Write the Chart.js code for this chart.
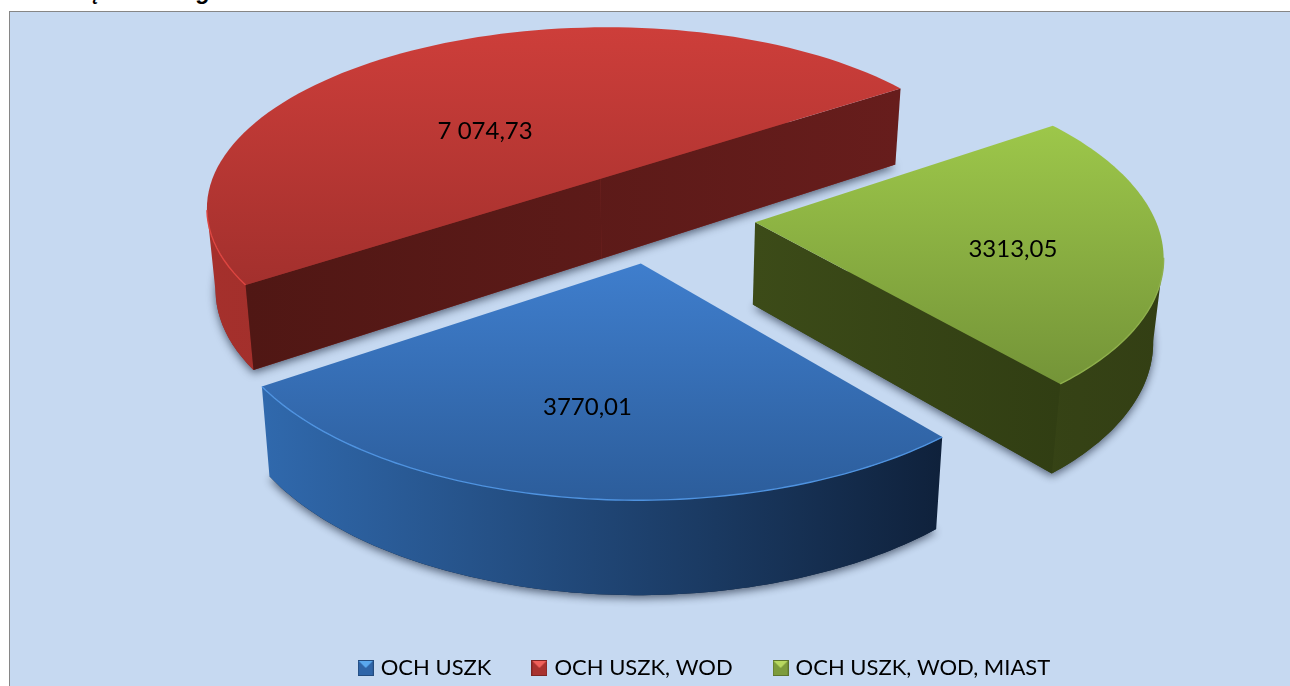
<!DOCTYPE html>
<html>
<head>
<meta charset="utf-8">
<script src="https://cdn.jsdelivr.net/npm/chart.js@4"></script>
<style>
    html, body { margin: 0; padding: 0; background: #fff; overflow: hidden; }
    #panel { position: absolute; left: 9px; top: 11px; width: 1290px; height: 686px; background: #c6d9f1; border: 1px solid #868686; box-sizing: border-box; }
    #pie { position: absolute; left: 0; top: 0; }
    #heading { position: absolute; left: 30px; top: -24px; font: italic bold 23px/30px "Liberation Sans"; word-spacing: 20px; color: #000; white-space: nowrap; }
</style>
</head>
<body>
<div id="panel"></div>
<div id="heading">Wiodąca kategoria ochronności</div>
<canvas id="pie" width="1290" height="686"></canvas>
<script>
var categories = ["OCH USZK", "OCH USZK, WOD", "OCH USZK, WOD, MIAST"];
var values = [3770.01, 7074.73, 3313.05];
var valueLabels = ["3770,01", "7 074,73", "3313,05"];

var topLight = ["#3f7ecd", "#cd3e3a", "#9dc74a"];
var topDark = ["#2c5d9b", "#a3302d", "#749438"];
var rimColors = ["#4f93e0", "#dd4540", "#8fb04c"];
var wallLeft = ["#3069ad", "#a5302c", "#3d4d19"];
var wallRight = ["#0f213b", "#8a2a26", "#333f14"];
var cutLeft = ["#1d3d68", "#501714", "#3c4b18"];
var cutRight = ["#10233f", "#671d1c", "#313e13"];
var markerColors = ["#2f65a8", "#a9322f", "#7d9c3c"];
var markerLights = ["#5aa8ee", "#f0605a", "#b8d860"];

// flat pie plane (radius 1) to screen, fitted to the corners of the reference
var plane = [404.08, -83.56, 655.24, -5.65, 151.92, 215.88, 0.00703, -0.15122];
var explode = 0.2509;
var labelRadius = [0.658, 0.426, 0.639];
var labelTurn = [1.85, -13.7, 4.9];

function project(x, y) {
    var w = plane[6] * x + plane[7] * y + 1;
    return [(plane[0] * x + plane[1] * y + plane[2]) / w, (plane[3] * x + plane[4] * y + plane[5]) / w];
}

// the same point on the underside of the slab
function lower(p) {
    return [p[0] + (640 - p[0]) * 0.02, p[1] + 76 + (p[1] - 89) * 0.046];
}

function slicePoint(el, angle, r) {
    var mid = (el.startAngle + el.endAngle) / 2;
    return project(explode * Math.cos(mid) + r * Math.cos(angle), explode * Math.sin(mid) + r * Math.sin(angle));
}

function trace(ctx, pts) {
    ctx.beginPath();
    pts.forEach(function(p, i) {
        if (i) ctx.lineTo(p[0], p[1]); else ctx.moveTo(p[0], p[1]);
    });
    ctx.closePath();
}

function hGradient(ctx, a, b, c1, c2) {
    var g = ctx.createLinearGradient(a, 0, b, 0);
    g.addColorStop(0, c1);
    g.addColorStop(1, c2);
    return g;
}

function drawSlice(ctx, el, i) {
    var steps = 90, arc = [], k;
    for (k = 0; k <= steps; k++) {
        arc.push(slicePoint(el, el.startAngle + (el.endAngle - el.startAngle) * k / steps, 1));
    }
    var apex = slicePoint(el, 0, 0);
    var top = [apex].concat(arc);
    var under = top.map(lower);
    var xs = top.map(function(p) { return p[0]; }), ys = top.map(function(p) { return p[1]; });
    var minX = Math.min.apply(null, xs), maxX = Math.max.apply(null, xs);
    var minY = Math.min.apply(null, ys), maxY = Math.max.apply(null, ys);
    var cx = xs.reduce(function(a, b) { return a + b; }) / xs.length;
    var cy = ys.reduce(function(a, b) { return a + b; }) / ys.length;

    // soft shadow under the whole slab
    ctx.save();
    ctx.shadowColor = "rgba(25,35,55,0.65)";
    ctx.shadowBlur = 8;
    ctx.shadowOffsetY = 3;
    ctx.fillStyle = wallRight[i];
    trace(ctx, under);
    ctx.fill();
    ctx.restore();

    // curved outer wall, only the run of the rim that faces the viewer
    var front = [];
    for (k = 0; k < steps; k++) {
        if (arc[k + 1][0] < arc[k][0]) {
            if (!front.length) front.push(arc[k]);
            front.push(arc[k + 1]);
        }
    }
    ctx.fillStyle = hGradient(ctx, minX, maxX, wallLeft[i], wallRight[i]);
    trace(ctx, front.concat(front.map(lower).reverse()));
    ctx.fill();

    // straight cut walls that face the viewer
    var cutFrom = Math.min(apex[0], arc[0][0], arc[steps][0]);
    var cutTo = Math.max(apex[0], arc[0][0], arc[steps][0]);
    [arc[0], arc[steps]].forEach(function(end) {
        var yAtCentre = apex[1] + (end[1] - apex[1]) * (cx - apex[0]) / (end[0] - apex[0]);
        if (yAtCentre > cy) {
            ctx.fillStyle = hGradient(ctx, cutFrom, cutTo, cutLeft[i], cutRight[i]);
            trace(ctx, [apex, end, lower(end), lower(apex)]);
            ctx.fill();
        }
    });

    // top face
    var g = ctx.createLinearGradient(0, minY, 0, maxY);
    g.addColorStop(0, topLight[i]);
    g.addColorStop(1, topDark[i]);
    ctx.fillStyle = g;
    trace(ctx, top);
    ctx.fill();

    // bevel highlight along the front rim
    ctx.strokeStyle = rimColors[i];
    ctx.lineWidth = 1.4;
    ctx.beginPath();
    front.forEach(function(p, n) {
        if (n) ctx.lineTo(p[0], p[1]); else ctx.moveTo(p[0], p[1]);
    });
    ctx.stroke();
}

var pie3d = {
    id: "pie3d",
    afterLayout: function(chart) {
        // legend sits right of centre, close to the bottom edge
        var legend = chart.legend;
        legend.left += 122;
        legend.top += 3;
        legend.bottom += 3;
    },
    beforeDatasetsDraw: function(chart) {
        var ctx = chart.ctx, arcs = chart.getDatasetMeta(0).data;
        ctx.save();
        [1, 2, 0].forEach(function(i) { drawSlice(ctx, arcs[i], i); });
        ctx.fillStyle = "#000";
        ctx.font = "24px Lato";
        ctx.textAlign = "center";
        ctx.textBaseline = "middle";
        arcs.forEach(function(el, i) {
            var a = (el.startAngle + el.endAngle) / 2 + labelTurn[i] * Math.PI / 180;
            var p = slicePoint(el, a, labelRadius[i]);
            ctx.fillText(valueLabels[i], p[0], p[1]);
        });
        ctx.restore();
        return false;
    }
};

function legendMarker(i) {
    var c = document.createElement("canvas");
    c.width = 16;
    c.height = 16;
    var m = c.getContext("2d");
    m.fillStyle = markerColors[i];
    m.fillRect(0, 0, 16, 16);
    m.fillStyle = markerLights[i];
    m.beginPath();
    m.moveTo(1, 1);
    m.lineTo(15, 1);
    m.lineTo(8, 8);
    m.closePath();
    m.fill();
    m.strokeStyle = "rgba(0,0,0,0.25)";
    m.strokeRect(0.5, 0.5, 15, 15);
    return c;
}

new Chart(document.getElementById("pie"), {
    type: "pie",
    data: {
        labels: categories,
        datasets: [{data: values, backgroundColor: markerColors, borderWidth: 0}]
    },
    plugins: [pie3d],
    options: {
        responsive: false,
        animation: false,
        rotation: 142.23,
        plugins: {
            tooltip: {enabled: false},
            legend: {
                position: "bottom",
                labels: {
                    boxWidth: 8,
                    padding: 44,
                    usePointStyle: true,
                    color: "#000",
                    font: {family: "Lato", size: 22},
                    generateLabels: function() {
                        return categories.map(function(name, i) {
                            return {text: name, pointStyle: legendMarker(i), fontColor: "#000", index: i};
                        });
                    }
                }
            }
        }
    }
});
</script>
</body>
</html>
